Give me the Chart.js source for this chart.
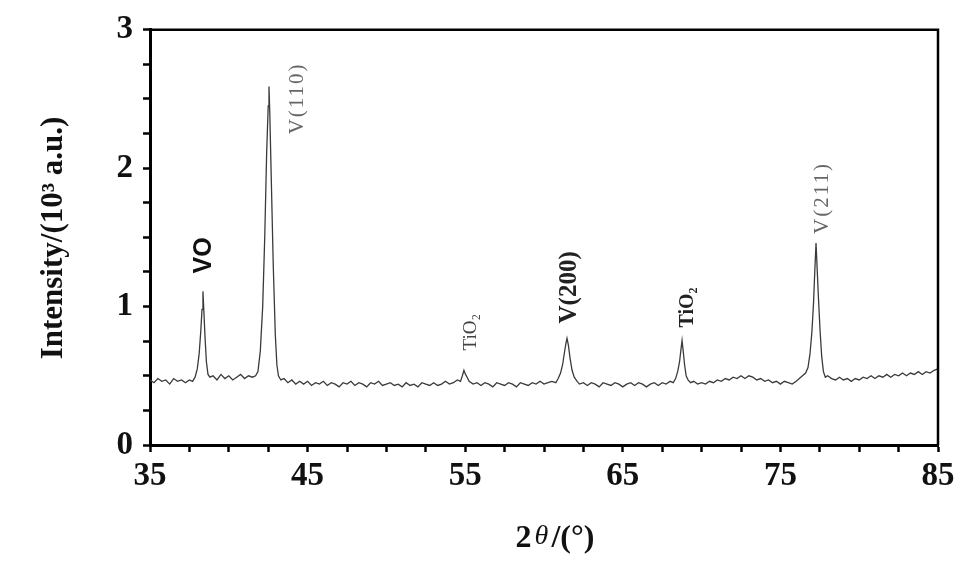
<!DOCTYPE html>
<html>
<head>
<meta charset="utf-8">
<script src="https://cdn.jsdelivr.net/npm/chart.js@4"></script>
<style>
  html, body { margin: 0; padding: 0; background: #fff; }
  #wrap { width: 971px; height: 568px; }
</style>
</head>
<body>
<div id="wrap"><canvas id="xrdChart" width="971" height="568"></canvas></div>
<script>
// XRD pattern
const twoTheta = [
  35.0, 35.25, 35.5, 35.75, 36.0, 36.25, 36.5, 36.75, 37.0, 37.25, 37.5, 37.7,
  37.86, 38.0, 38.12, 38.22, 38.3, 38.36, 38.42, 38.5, 38.58, 38.68, 38.8,
  39.0, 39.25, 39.5, 39.75, 40.0, 40.25, 40.5, 40.75, 41.0, 41.25, 41.5, 41.7,
  41.85, 42.0, 42.15, 42.28, 42.4, 42.5, 42.55, 42.6, 42.7, 42.82, 42.95, 43.05, 43.15,
  43.3, 43.5, 43.75, 44.0, 44.25, 44.5, 44.75, 45.0, 45.25, 45.5, 45.75, 46.0, 46.25, 46.5, 46.75,
  47.0, 47.25, 47.5, 47.75, 48.0, 48.25, 48.5, 48.75, 49.0, 49.25, 49.5, 49.75,
  50.0, 50.25, 50.5, 50.75, 51.0, 51.25, 51.5, 51.75, 52.0, 52.25, 52.5, 52.75,
  53.0, 53.25, 53.5, 53.75, 54.0, 54.25, 54.5, 54.7,
  54.82, 54.92, 55.02, 55.12, 55.25,
  55.5, 55.75, 56.0, 56.25, 56.5, 56.75, 57.0, 57.25, 57.5, 57.75, 58.0, 58.25, 58.5, 58.75,
  59.0, 59.25, 59.5, 59.75, 60.0, 60.25, 60.5, 60.75,
  60.9, 61.05, 61.18, 61.3, 61.4, 61.46, 61.55, 61.65, 61.78, 61.92, 62.1,
  62.25, 62.5, 62.75, 63.0, 63.25, 63.5, 63.75, 64.0, 64.25, 64.5, 64.75, 65.0, 65.25, 65.5, 65.75,
  66.0, 66.25, 66.5, 66.75, 67.0, 67.25, 67.5, 67.75, 68.0, 68.2,
  68.35, 68.48, 68.6, 68.7, 68.76, 68.83, 68.92, 69.02, 69.14,
  69.3, 69.5, 69.75, 70.0, 70.25, 70.5, 70.75, 71.0, 71.25, 71.5, 71.75, 72.0, 72.25, 72.5, 72.75,
  73.0, 73.25, 73.5, 73.75, 74.0, 74.25, 74.5, 74.75, 75.0, 75.25, 75.5, 75.75, 76.0, 76.2, 76.4, 76.6,
  76.75, 76.88, 77.0, 77.1, 77.18, 77.26, 77.33, 77.42, 77.52, 77.62, 77.73, 77.85,
  78.0, 78.25, 78.5, 78.75, 79.0, 79.25, 79.5, 79.75, 80.0, 80.25, 80.5, 80.75, 81.0, 81.25, 81.5, 81.75,
  82.0, 82.25, 82.5, 82.75, 83.0, 83.25, 83.5, 83.75, 84.0, 84.25, 84.5, 84.75, 85.0
]
const intensity = [
  0.47, 0.45, 0.48, 0.46, 0.47, 0.44, 0.48, 0.46, 0.47, 0.45, 0.47, 0.46,
  0.49, 0.55, 0.66, 0.82, 0.98, 1.11, 0.96, 0.76, 0.6, 0.51, 0.49,
  0.5, 0.47, 0.51, 0.48, 0.5, 0.47, 0.49, 0.51, 0.48, 0.5, 0.49, 0.5,
  0.53, 0.68, 1.0, 1.5, 2.1, 2.45, 2.59, 2.4, 1.9, 1.3, 0.8, 0.58, 0.5,
  0.47, 0.48, 0.45, 0.47, 0.44, 0.46, 0.44, 0.46, 0.43, 0.45, 0.44, 0.46, 0.43, 0.45, 0.44,
  0.42, 0.45, 0.44, 0.46, 0.43, 0.45, 0.44, 0.42, 0.45, 0.44, 0.46, 0.43,
  0.44, 0.45, 0.43, 0.44, 0.42, 0.45, 0.43, 0.44, 0.42, 0.45, 0.44, 0.43,
  0.45, 0.43, 0.44, 0.46, 0.44, 0.45, 0.47, 0.46,
  0.5, 0.54, 0.51, 0.49, 0.46,
  0.44, 0.45, 0.43, 0.45, 0.44, 0.42, 0.45, 0.44, 0.43, 0.45, 0.44, 0.42, 0.45, 0.44,
  0.43, 0.45, 0.44, 0.46, 0.44, 0.45, 0.46, 0.45,
  0.48, 0.52, 0.58, 0.67, 0.74, 0.77, 0.72, 0.63, 0.54, 0.49, 0.46,
  0.44, 0.45, 0.43, 0.45, 0.44, 0.42, 0.45, 0.44, 0.43, 0.45, 0.44, 0.42, 0.44, 0.45, 0.43,
  0.45, 0.44, 0.42, 0.44, 0.45, 0.43, 0.45, 0.44, 0.46, 0.45,
  0.48, 0.53, 0.6, 0.7, 0.755, 0.68, 0.58, 0.5, 0.47,
  0.45, 0.46, 0.44, 0.45, 0.44, 0.46, 0.45, 0.47, 0.46, 0.48, 0.47, 0.49, 0.48, 0.5, 0.48,
  0.5, 0.49, 0.47, 0.48, 0.46, 0.47, 0.45, 0.46, 0.44, 0.46, 0.45, 0.44, 0.46, 0.48, 0.5, 0.52,
  0.56, 0.66, 0.82, 1.02, 1.25, 1.46, 1.28, 1.05, 0.82, 0.64, 0.53, 0.49,
  0.5, 0.48, 0.47, 0.49, 0.47, 0.48, 0.46, 0.48, 0.47, 0.49, 0.48, 0.5, 0.48, 0.5, 0.49, 0.51,
  0.49, 0.51, 0.5, 0.52, 0.5, 0.52, 0.51, 0.53, 0.51, 0.53, 0.52, 0.54, 0.55
]

// peak labels (text, 2θ of the label, intensity where the label starts)
const peakLabels = ["VO", "V(110)", "TiO₂", "V(200)", "TiO₂", "V(211)"]
const peakLabelAngle = [38.43, 44.36, 55.37, 61.65, 69.14, 77.7]
const peakLabelBase = [1.24, 2.245, 0.683, 0.878, 0.849, 1.525]

const xTitle = ["2", "θ", "/(°)"]
const yTitle = "Intensity/(10³ a.u.)"

const serif = "'Liberation Serif', 'Times New Roman', serif"
const labelStyles = [
  { font: "bold 25px 'Liberation Sans', Arial, sans-serif", color: "#111", spacing: "0px" },
  { font: "21px " + serif, color: "#666", spacing: "2px" },
  { font: "19px " + serif, color: "#444", spacing: "0px" },
  { font: "bold 25px " + serif, color: "#222", spacing: "0px" },
  { font: "bold 20px " + serif, color: "#222", spacing: "0px" },
  { font: "21px " + serif, color: "#666", spacing: "2px" },
]

const decorations = {
  id: "decorations",
  afterDraw(chart) {
    const { ctx, chartArea, scales } = chart
    ctx.save()

    // top and right frame
    ctx.strokeStyle = "#000"
    ctx.lineWidth = 2.5
    ctx.beginPath()
    ctx.moveTo(chartArea.left, chartArea.top)
    ctx.lineTo(chartArea.right, chartArea.top)
    ctx.lineTo(chartArea.right, chartArea.bottom)
    ctx.stroke()

    // peak labels, rotated
    peakLabels.forEach((txt, i) => {
      const st = labelStyles[i]
      const px = scales.x.getPixelForValue(peakLabelAngle[i])
      const py = scales.y.getPixelForValue(peakLabelBase[i])
      ctx.save()
      ctx.translate(px, py)
      ctx.rotate(-Math.PI / 2)
      ctx.font = st.font
      ctx.letterSpacing = st.spacing
      ctx.fillStyle = st.color
      ctx.textAlign = "left"
      ctx.textBaseline = "middle"
      ctx.fillText(txt, 0, 0)
      ctx.restore()
    })

    // y title
    ctx.save()
    ctx.translate(54, 238)
    ctx.rotate(-Math.PI / 2)
    ctx.font = "bold 31px " + serif
    ctx.fillStyle = "#111"
    ctx.textAlign = "center"
    ctx.textBaseline = "middle"
    ctx.fillText(yTitle, 0, 0)
    ctx.restore()

    // x title: 2θ/(°) with italic theta
    const fonts = ["bold 32px " + serif, "italic 28px " + serif, "bold 32px " + serif]
    const widths = xTitle.map((t, i) => {
      ctx.font = fonts[i]
      return ctx.measureText(t).width
    })
    const total = widths.reduce((a, b) => a + b, 0) + 6
    let x = 555 - total / 2
    ctx.fillStyle = "#111"
    ctx.textAlign = "left"
    ctx.textBaseline = "alphabetic"
    xTitle.forEach((t, i) => {
      ctx.font = fonts[i]
      ctx.fillText(t, x, i === 1 ? 544 : 547)
      x += widths[i] + 3
    })

    ctx.restore()
  },
}

new Chart(document.getElementById("xrdChart"), {
  type: "line",
  data: {
    datasets: [
      {
        data: twoTheta.map((t, i) => ({ x: t, y: intensity[i] })),
        borderColor: "#3a3a3a",
        borderWidth: 1.3,
        pointRadius: 0,
        tension: 0,
        fill: false,
      },
    ],
  },
  options: {
    responsive: false,
    animation: false,
    layout: { padding: { left: 0, top: 28, right: 33, bottom: 0 } },
    plugins: {
      legend: { display: false },
      tooltip: { enabled: false },
    },
    scales: {
      x: {
        type: "linear",
        min: 35,
        max: 85,
        afterFit: (scale) => { scale.height = 123 },
        border: { display: true, color: "#000", width: 3 },
        grid: { display: true, drawOnChartArea: false, drawTicks: true, tickLength: 7, tickWidth: 2.5, tickColor: "#000" },
        ticks: {
          stepSize: 2.5,
          autoSkip: false,
          maxRotation: 0,
          padding: 5,
          color: "#111",
          font: { family: serif, size: 33, weight: "bold" },
          callback: (v) => ((v - 35) % 10 === 0 ? v : ""),
        },
      },
      y: {
        min: 0,
        max: 3,
        afterFit: (scale) => { scale.width = 150 },
        border: { display: true, color: "#000", width: 3 },
        grid: { display: true, drawOnChartArea: false, drawTicks: true, tickLength: 7, tickWidth: 2.5, tickColor: "#000" },
        ticks: {
          stepSize: 0.25,
          autoSkip: false,
          padding: 10,
          color: "#111",
          font: { family: serif, size: 33, weight: "bold" },
          callback: (v) => (Number.isInteger(v) ? v : ""),
        },
      },
    },
  },
  plugins: [decorations],
})
</script>
</body>
</html>
